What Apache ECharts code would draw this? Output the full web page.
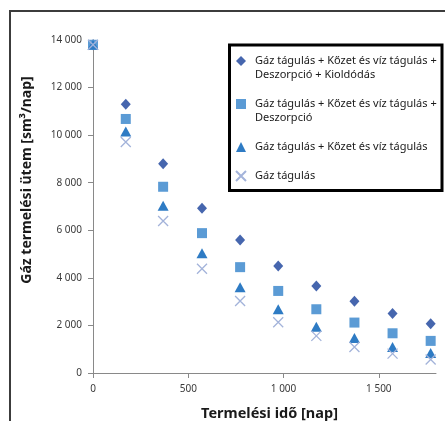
<!DOCTYPE html>
<html>
<head>
<meta charset="utf-8">
<script src="https://cdn.jsdelivr.net/npm/echarts@6/dist/echarts.min.js"></script>
<style>
  html, body { margin: 0; padding: 0; background: #fff; }
  #chart { width: 445px; height: 421px; }
</style>
</head>
<body>
<div id="chart"></div>
<script>
// termelési idő [nap]
const days = [0, 172, 368, 572, 772, 972, 1172, 1372, 1572, 1772]

// gáz termelési ütem [sm3/nap]
const seriesNames = [
  'Gáz tágulás + Kőzet és víz tágulás + Deszorpció + Kioldódás',
  'Gáz tágulás + Kőzet és víz tágulás + Deszorpció',
  'Gáz tágulás + Kőzet és víz tágulás',
  'Gáz tágulás'
]
const withDissolution = [13800, 11300, 8800, 6930, 5590, 4500, 3660, 3020, 2500, 2070]
const withDesorption = [13800, 10680, 7830, 5880, 4450, 3450, 2680, 2120, 1670, 1350]
const rockWater = [13800, 10150, 7030, 5030, 3600, 2680, 1940, 1475, 1095, 840]
const gasOnly = [13800, 9710, 6390, 4380, 3030, 2135, 1560, 1095, 815, 565]

const yTicks = [0, 2000, 4000, 6000, 8000, 10000, 12000, 14000]
const xTicks = [0, 500, 1000, 1500]

const fmt = v => String(v).replace(/\B(?=(\d{3})+(?!\d))/g, ' ')
const pairs = vals => days.map((d, i) => [d, vals[i]])

const font = '"Noto Sans", sans-serif'
const labelColor = '#3a3a3a'
const axisColor = '#898989'

// legend text broken like the original; leading empty line keeps the icon on the first line
const legendText = {}
legendText[seriesNames[0]] = '\nGáz tágulás + Kőzet és víz tágulás +\nDeszorpció + Kioldódás'
legendText[seriesNames[1]] = '\nGáz tágulás + Kőzet és víz tágulás +\nDeszorpció'
legendText[seriesNames[2]] = seriesNames[2]
legendText[seriesNames[3]] = seriesNames[3]

const chart = echarts.init(document.getElementById('chart'), null, { renderer: 'canvas' })

const option = {
  backgroundColor: '#fff',
  animation: false,
  textStyle: { fontFamily: font },
  grid: { left: 93, right: 9, top: 40, bottom: 48, outerBoundsMode: 'none', containLabel: false },
  xAxis: {
    type: 'value',
    min: 0,
    max: 1800,
    interval: 500,
    name: 'Termelési idő [nap]',
    nameLocation: 'middle',
    nameGap: 33,
    nameTextStyle: { fontSize: 14.5, fontWeight: 'bold', color: '#1a1a1a', padding: [0, 0, 0, 10] },
    axisLine: { lineStyle: { color: axisColor } },
    axisTick: { length: 5, lineStyle: { color: axisColor }, customValues: xTicks },
    axisLabel: { margin: 11, fontSize: 10, color: labelColor, formatter: fmt, customValues: xTicks },
    splitLine: { show: false }
  },
  yAxis: {
    type: 'value',
    min: 0,
    max: 14000,
    interval: 2000,
    axisLine: { show: true, lineStyle: { color: axisColor } },
    axisTick: { show: true, length: 5, lineStyle: { color: axisColor }, customValues: yTicks },
    axisLabel: { margin: 11, fontSize: 10, color: labelColor, formatter: fmt, customValues: yTicks },
    splitLine: { show: false }
  },
  legend: {
    orient: 'vertical',
    left: 235,
    top: 40,
    padding: 0,
    itemGap: 1,
    itemWidth: 10,
    itemHeight: 10,
    textStyle: { fontSize: 11, color: '#1a1a1a', lineHeight: 14 },
    formatter: name => legendText[name],
    data: [
      { name: seriesNames[0], textStyle: { padding: [0, 0, 0, 4] } },
      { name: seriesNames[1], textStyle: { padding: [0, 0, 0, 4] } },
      { name: seriesNames[2], textStyle: { padding: [14, 0, 14, 4] } },
      { name: seriesNames[3], textStyle: { padding: [0, 0, 0, 4] } }
    ]
  },
  graphic: [
    {
      type: 'rect',
      shape: { x: 10, y: 11, width: 600, height: 600 },
      style: { fill: 'none', stroke: '#3c3c3c', lineWidth: 2 },
      silent: true
    },
    {
      type: 'rect',
      shape: { x: 229.5, y: 45, width: 212.5, height: 145.5 },
      style: { fill: 'none', stroke: '#000', lineWidth: 3 },
      silent: true
    },
    {
      type: 'text',
      x: 27,
      y: 180,
      rotation: Math.PI / 2,
      style: {
        text: 'Gáz termelési ütem [sm³/nap]',
        font: 'bold 14px ' + font,
        fill: '#1a1a1a',
        align: 'center',
        verticalAlign: 'middle'
      }
    }
  ],
  series: [
    {
      name: seriesNames[0],
      type: 'scatter',
      symbol: 'diamond',
      symbolSize: [10, 11],
      itemStyle: { color: '#4666ae', opacity: 1 },
      data: pairs(withDissolution)
    },
    {
      name: seriesNames[1],
      type: 'scatter',
      symbol: 'rect',
      symbolSize: 10,
      itemStyle: { color: '#5b9bd5', opacity: 1 },
      data: pairs(withDesorption)
    },
    {
      name: seriesNames[2],
      type: 'scatter',
      symbol: 'triangle',
      symbolSize: [11, 10],
      itemStyle: { color: '#2e7bc4', opacity: 1 },
      data: pairs(rockWater)
    },
    {
      name: seriesNames[3],
      type: 'scatter',
      symbol: 'path://M0,0L10,10M0,10L10,0',
      symbolSize: 10,
      itemStyle: { color: 'transparent', borderColor: '#a3b3da', borderWidth: 1.3, opacity: 1 },
      data: pairs(gasOnly)
    }
  ]
}

chart.setOption(option)
</script>
</body>
</html>
